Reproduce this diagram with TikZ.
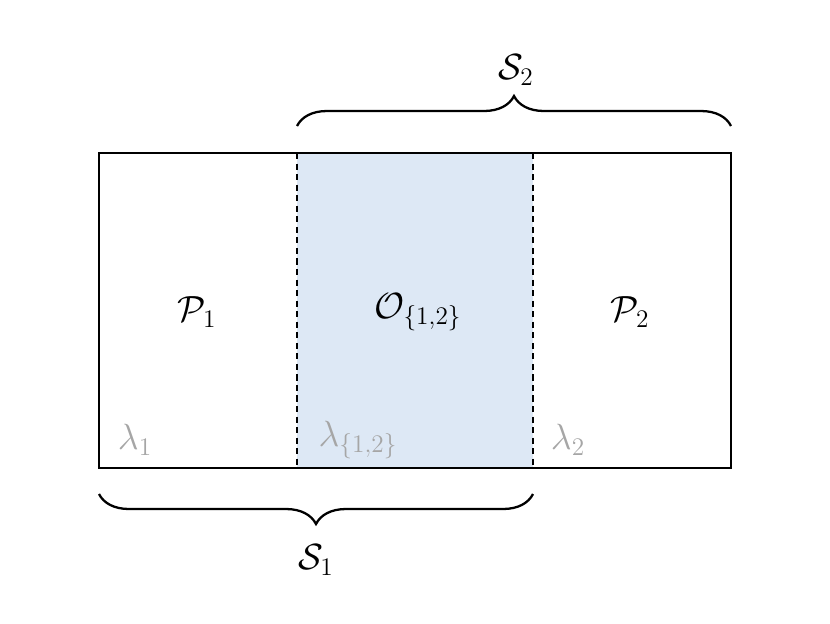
\documentclass[tikz,border=0pt]{standalone}
\usepackage{amsmath,amssymb}
\usetikzlibrary{decorations.pathreplacing}
\definecolor{overlapblue}{RGB}{221,232,245}
\tikzset{
  brace/.style={line width=1.3pt,decorate,decoration={brace,amplitude=0.6cm}},
  lam/.style={gray!70,font=\huge},
  part/.style={font=\huge}
}
\begin{document}
\begin{tikzpicture}[x=0.02cm,y=-0.02cm]
                \useasboundingbox (0,0) rectangle (830,623);
                \fill[overlapblue] (297,153) rectangle (533,468);
                \draw[line width=1.3pt] (99,153) rectangle (731,468);
                \draw[line width=1.3pt,dash pattern=on 3.5pt off 2.5pt] (297,153)--(297,468);
                \draw[line width=1.3pt,dash pattern=on 3.5pt off 2.5pt] (533,153)--(533,468);
                \node[part] (p1) at (197,312) {\(\mathcal{P}_1\)};
                \node[part] (o12) at (418,312) {\(\mathcal{O}_{\{1,2\}}\)};
                \node[part] (p2) at (630,312) {\(\mathcal{P}_2\)};
                \node[lam] (l1) at (135,440) {\(\lambda_1\)};
                \node[lam] (l12) at (358,440) {\(\lambda_{\{1,2\}}\)};
                \node[lam] (l2) at (568,440) {\(\lambda_2\)};
                \draw[brace] (297,126)--(731,126);
                \draw[brace] (533,494)--(99,494);
                \node[part] (s2) at (516,70) {\(\mathcal{S}_2\)};
                \node[part] (s1) at (316,560) {\(\mathcal{S}_1\)};
            \end{tikzpicture}
\end{document}
